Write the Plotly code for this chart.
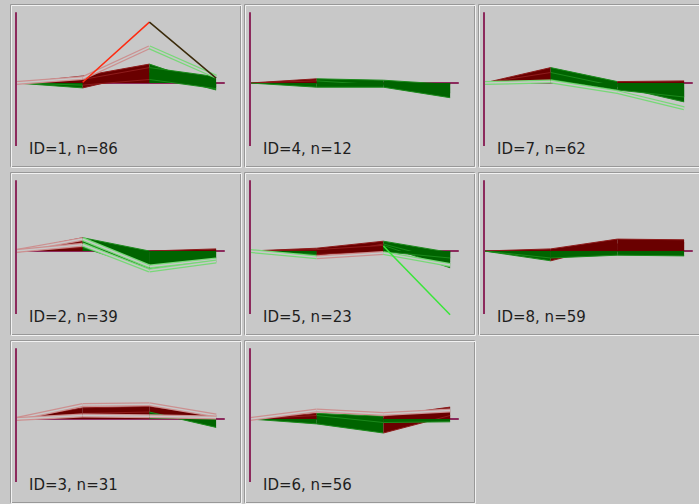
import plotly.graph_objects as go

# ---------------- data ----------------
PANEL_IDS = [1, 4, 7, 2, 5, 8, 3, 6]
PANEL_N = [86, 12, 62, 39, 23, 59, 31, 56]
STEPS = [0, 1, 2, 3]

# cluster ID=1
ID1_FILLED = [[0, 0.10, 0.27, -0.05], [0, -0.07, 0.15, -0.10], [0, 0.05, 0.22, 0.09], [0, -0.03, 0.05, -0.08]]
ID1_FILL_TONES = ["RRG", "GRG", "RRG", "GRG"]
ID1_HOLLOW = [[0, 0.07, 0.51, 0.09]]
ID1_HOLLOW_TONES = ["RRG"]
ID1_HIGHLIGHT = [0, 0.01, 0.87, 0.07]
ID1_HIGHLIGHT_TONES = "RRd"

# cluster ID=4
ID4_FILLED = [[0, 0.06, 0.04, -0.02], [0, 0.03, -0.03, -0.14], [0, -0.06, -0.06, -0.21]]
ID4_FILL_TONES = ["RGG", "RGG", "GGG"]
ID4_HOLLOW = []
ID4_HOLLOW_TONES = []

# cluster ID=7
ID7_FILLED = [[0, 0.22, 0.02, 0.03], [0, 0.15, -0.05, -0.27], [0, 0.05, -0.10, -0.20]]
ID7_FILL_TONES = ["RGR", "RGG", "RGG"]
ID7_HOLLOW = [[0, 0.02, -0.13, -0.36]]
ID7_HOLLOW_TONES = ["GGG"]

# cluster ID=2
ID2_FILLED = [[0, 0.19, 0.0, 0.03], [0, 0.12, -0.20, -0.10], [0, 0.05, -0.26, -0.16]]
ID2_FILL_TONES = ["RGR", "RGG", "RGG"]
ID2_HOLLOW = [[0, 0.17, -0.22, -0.12], [0, 0.09, -0.28, -0.15]]
ID2_HOLLOW_TONES = ["RGG", "RGG"]

# cluster ID=5
ID5_FILLED = [[0, 0.04, 0.14, -0.02], [0, -0.07, 0.10, -0.15], [0, 0.02, 0.08, -0.24], [0, -0.05, -0.01, -0.10]]
ID5_FILL_TONES = ["RRG", "GRG", "RRG", "GRG"]
ID5_HOLLOW = [[0, -0.09, -0.03, -0.20]]
ID5_HOLLOW_TONES = ["GRG"]
ID5_HIGHLIGHT = [0, 0.03, 0.07, -0.91]
ID5_HIGHLIGHT_TONES = "RRG"

# cluster ID=8
ID8_FILLED = [[0, -0.14, 0.10, 0.12], [0, 0.03, 0.17, 0.16], [0, -0.10, -0.06, -0.07]]
ID8_FILL_TONES = ["GRR", "RRR", "GGG"]
ID8_HOLLOW = []
ID8_HOLLOW_TONES = []

# cluster ID=3
ID3_FILLED = [[0, 0.16, 0.18, 0.05], [0, 0.08, 0.10, -0.12]]
ID3_FILL_TONES = ["RRR", "RRG"]
ID3_HOLLOW = [[0, 0.20, 0.21, 0.05], [0, 0.05, 0.04, 0.02]]
ID3_HOLLOW_TONES = ["RRR", "RRR"]

# cluster ID=6
ID6_FILLED = [[0, 0.08, 0.04, 0.17], [0, -0.07, -0.20, 0.05], [0, 0.05, -0.05, -0.04]]
ID6_FILL_TONES = ["RGR", "GGR", "RGG"]
ID6_HOLLOW = [[0, 0.12, 0.07, 0.12]]
ID6_HOLLOW_TONES = ["RRR"]

PANELS = [
    dict(filled=ID1_FILLED, tones=ID1_FILL_TONES, hollow=ID1_HOLLOW, htones=ID1_HOLLOW_TONES,
         hl=ID1_HIGHLIGHT, hltones=ID1_HIGHLIGHT_TONES, hlfrom=1),
    dict(filled=ID4_FILLED, tones=ID4_FILL_TONES, hollow=ID4_HOLLOW, htones=ID4_HOLLOW_TONES),
    dict(filled=ID7_FILLED, tones=ID7_FILL_TONES, hollow=ID7_HOLLOW, htones=ID7_HOLLOW_TONES),
    dict(filled=ID2_FILLED, tones=ID2_FILL_TONES, hollow=ID2_HOLLOW, htones=ID2_HOLLOW_TONES),
    dict(filled=ID5_FILLED, tones=ID5_FILL_TONES, hollow=ID5_HOLLOW, htones=ID5_HOLLOW_TONES,
         hl=ID5_HIGHLIGHT, hltones=ID5_HIGHLIGHT_TONES, hlfrom=2),
    dict(filled=ID8_FILLED, tones=ID8_FILL_TONES, hollow=ID8_HOLLOW, htones=ID8_HOLLOW_TONES),
    dict(filled=ID3_FILLED, tones=ID3_FILL_TONES, hollow=ID3_HOLLOW, htones=ID3_HOLLOW_TONES),
    dict(filled=ID6_FILLED, tones=ID6_FILL_TONES, hollow=ID6_HOLLOW, htones=ID6_HOLLOW_TONES),
]

# ---------------- style / layout ----------------
W, H = 699, 504
BG = "#c8c8c8"
COL_LEFT = [10, 244, 478]
ROW_TOP = [4, 172, 340]
PW, PH = 232, 164
AX_DX = 6
BASE_DY = 79
XPX = 66.7
YPX = 70.0
AXIS_COLOR = "#8c2a5c"
FILL_COLOR = {"R": "#6a0000", "G": "#006400"}
EDGE_COLOR = {"R": "#8e1c1c", "G": "#1c8a1c"}
HOLLOW_COLOR = {"R": "#cc9090", "G": "#78d878"}
HL_COLOR = {"R": "#ff2a10", "G": "#3ae63a", "d": "#3a2a0a"}

fig = go.Figure()
shapes = []
annotations = []
layout_axes = {}

for k, p in enumerate(PANELS):
    c, r = k % 3, k // 3
    left, top = COL_LEFT[c], ROW_TOP[r]
    right = min(left + PW, W)
    bottom = min(top + PH, H)
    ax_px = left + AX_DX
    suffix = "" if k == 0 else str(k + 1)
    xa, ya = "x" + suffix, "y" + suffix
    layout_axes["xaxis" + suffix] = dict(
        domain=[left / W, right / W], anchor=ya,
        range=[(left - ax_px) / XPX, (right - ax_px) / XPX],
        visible=False, fixedrange=True)
    layout_axes["yaxis" + suffix] = dict(
        domain=[1 - bottom / H, 1 - top / H], anchor=xa,
        range=[(BASE_DY - (bottom - top)) / YPX, BASE_DY / YPX],
        visible=False, fixedrange=True)

    # etched panel border
    shapes.append(dict(type="rect", xref="paper", yref="paper",
                       x0=(left + 0.5) / W, x1=(left + PW - 1.5) / W,
                       y0=1 - (top + 0.5) / H, y1=1 - (top + PH - 1.5) / H,
                       line=dict(color="#989898", width=1), layer="below"))
    shapes.append(dict(type="rect", xref="paper", yref="paper",
                       x0=(left + 1.5) / W, x1=(left + PW - 0.5) / W,
                       y0=1 - (top + 1.5) / H, y1=1 - (top + PH - 0.5) / H,
                       line=dict(color="#f2f2f2", width=1), layer="below"))

    # axes lines
    shapes.append(dict(type="line", xref=xa, yref=ya, x0=0, x1=3.13, y0=0, y1=0,
                       line=dict(color=AXIS_COLOR, width=2), layer="below"))
    shapes.append(dict(type="line", xref=xa, yref=ya, x0=0, x1=0, y0=-0.9, y1=1.01,
                       line=dict(color=AXIS_COLOR, width=2), layer="above"))

    # filled profiles
    for prof, tone in zip(p["filled"], p["tones"]):
        for i in range(len(STEPS) - 1):
            x0, x1 = STEPS[i], STEPS[i + 1]
            v0, v1 = prof[i], prof[i + 1]
            t = tone[i]
            fig.add_trace(go.Scatter(
                x=[x0, x0, x1, x1, x0], y=[0, v0, v1, 0, 0], xaxis=xa, yaxis=ya,
                mode="lines", fill="toself", fillcolor=FILL_COLOR[t],
                line=dict(width=0), hoverinfo="skip", showlegend=False))
            fig.add_trace(go.Scatter(
                x=[x0, x1], y=[v0, v1], xaxis=xa, yaxis=ya, mode="lines",
                line=dict(color=EDGE_COLOR[t], width=1), hoverinfo="skip", showlegend=False))

    # hollow profiles
    for prof, tone in zip(p["hollow"], p["htones"]):
        for i in range(len(STEPS) - 1):
            x0, x1 = STEPS[i], STEPS[i + 1]
            t = tone[i]
            fig.add_trace(go.Scatter(
                x=[x0, x1], y=[prof[i], prof[i + 1]], xaxis=xa, yaxis=ya, mode="lines",
                line=dict(color=HOLLOW_COLOR[t], width=4), hoverinfo="skip", showlegend=False))
            fig.add_trace(go.Scatter(
                x=[x0, x1], y=[prof[i], prof[i + 1]], xaxis=xa, yaxis=ya, mode="lines",
                line=dict(color=BG, width=1.5), hoverinfo="skip", showlegend=False))

    # highlighted profile
    if "hl" in p:
        prof, tone = p["hl"], p["hltones"]
        for i in range(p["hlfrom"], len(STEPS) - 1):
            fig.add_trace(go.Scatter(
                x=[STEPS[i], STEPS[i + 1]], y=[prof[i], prof[i + 1]], xaxis=xa, yaxis=ya,
                mode="lines", line=dict(color=HL_COLOR[tone[i]], width=1.5),
                hoverinfo="skip", showlegend=False))

    annotations.append(dict(
        xref="paper", yref="paper", x=(left + 17) / W, y=1 - (top + 145) / H,
        xanchor="left", yanchor="middle", showarrow=False,
        text=f"ID={PANEL_IDS[k]}, n={PANEL_N[k]}",
        font=dict(family="DejaVu Sans", size=15, color="#1e1e1e")))

fig.update_layout(
    width=W, height=H, margin=dict(l=0, r=0, t=0, b=0),
    paper_bgcolor=BG, plot_bgcolor=BG, showlegend=False,
    shapes=shapes, annotations=annotations, **layout_axes)

fig.write_html("out.html", config={"displayModeBar": False},
               post_script="document.body.style.margin='0';document.body.style.overflow='hidden';")
